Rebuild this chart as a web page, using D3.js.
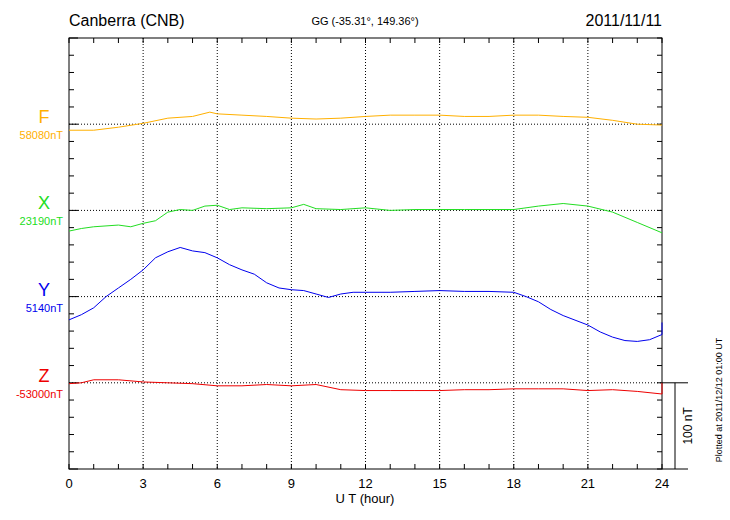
<!DOCTYPE html>
<html><head><meta charset="utf-8">
<script src="https://cdn.jsdelivr.net/npm/d3@7"></script>
<style>body{margin:0;background:#fff}svg{font-family:"Liberation Sans",Arial,sans-serif}</style>
</head><body><div id="canvas"></div>
<script>
// hourly values, nT relative to each component's baseline
const fHours = [0,1,2,3,4,5,5.7,6,7,8,9,10,11,12,13,14,15,16,17,18,19,20,21,22,23,24];
const fVals = [-7,-7,-3.5,1,7,9,14,12,10.5,9,7,6,7,9,10.5,10.5,10.5,9,9,10.5,10.5,9,8,4.5,0,-1];
const xHours = [0,0.5,1,2,2.5,3,3.5,4,4.5,5,5.5,6,6.5,7,8,9,9.5,10,11,12,13,14,15,16,17,18,19,20,21,22,23,24];
const xVals = [-24,-21,-19,-17,-19,-15,-12,-2,1,0,5,6,1,3,2,3,7,2,1,3,0,1,1,1,1,1,5,8,5,-2,-14,-26];
const yHours = [0,0.5,1,1.5,2,2.5,3,3.5,4,4.5,5,5.5,6,6.5,7,7.5,8,8.5,9,9.5,10,10.5,11,11.5,12,13,14,15,16,17,18,18.5,19,19.5,20,21,21.5,22,22.5,23,23.5,24,24];
const yVals = [-27,-21,-13,0,10,20,31,45,52,57,53,51,45,37,31,26,16,10,8,7,3,-1,3,5,5,5,6,7,6,6,5,0,-6,-15,-22,-33,-41,-47,-51,-52,-50,-44,-30];
const zHours = [0,0.5,1,2,3,4,5,6,7,8,9,10,11,12,13,14,15,16,17,18,19,20,21,22,23,24,24];
const zVals = [-1,0,3.5,3.5,1,0,-1,-3.5,-3.5,-2,-3.5,-2,-8,-9,-9,-9,-9,-8,-8,-7,-7,-7,-9,-8,-10,-13,0];
const comps = [
  {name:"F", base:"58080nT", color:"#ffb000", off:300, h:fHours, v:fVals},
  {name:"X", base:"23190nT", color:"#22dd22", off:200, h:xHours, v:xVals},
  {name:"Y", base:"5140nT", color:"#0000ee", off:100, h:yHours, v:yVals},
  {name:"Z", base:"-53000nT", color:"#ee0000", off:0, h:zHours, v:zVals}
];
const xTicks = [0,3,6,9,12,15,18,21,24];

const svg = d3.select("#canvas").append("svg").attr("width",730).attr("height",520);
const x = d3.scaleLinear().domain([0,24]).range([69,662]);
const y = d3.scaleLinear().domain([-100,400]).range([469,38]);

// frame
svg.append("rect").attr("x",69).attr("y",38).attr("width",593).attr("height",431)
  .attr("fill","none").attr("stroke","#000");

// grid
svg.selectAll(".vg").data(xTicks.slice(1,-1)).enter().append("line")
  .attr("x1",d=>x(d)).attr("x2",d=>x(d)).attr("y1",38).attr("y2",469)
  .attr("stroke","#000").attr("stroke-dasharray","1,2");
svg.selectAll(".hg").data(comps).enter().append("line")
  .attr("x1",69).attr("x2",662).attr("y1",d=>y(d.off)).attr("y2",d=>y(d.off))
  .attr("stroke","#000").attr("stroke-dasharray","1,2");

// minor ticks
const yt = d3.range(-100,401,20);
svg.selectAll(".lt").data(yt).enter().append("line")
  .attr("x1",69).attr("x2",d=>d%100===0?78:74).attr("y1",d=>y(d)).attr("y2",d=>y(d)).attr("stroke","#000");
svg.selectAll(".rt").data(yt).enter().append("line")
  .attr("x1",662).attr("x2",657).attr("y1",d=>y(d)).attr("y2",d=>y(d)).attr("stroke","#000");
svg.selectAll(".bt").data(d3.range(0,25)).enter().append("line")
  .attr("x1",d=>x(d)).attr("x2",d=>x(d)).attr("y1",469).attr("y2",464).attr("stroke","#000");
svg.selectAll(".tt").data(d3.range(0,25)).enter().append("line")
  .attr("x1",d=>x(d)).attr("x2",d=>x(d)).attr("y1",38).attr("y2",43).attr("stroke","#000");

// traces
comps.forEach(c=>{
  const pts = c.h.map((h,i)=>[h,c.v[i]+c.off]);
  svg.append("path").datum(pts).attr("fill","none").attr("stroke",c.color).attr("stroke-width",1)
    .attr("d",d3.line().x(d=>x(d[0])).y(d=>y(d[1])).curve(d3.curveLinear));
  svg.append("text").attr("x",44).attr("y",y(c.off)-1).attr("text-anchor","middle")
    .attr("font-size",18).attr("fill",c.color).text(c.name);
  svg.append("text").attr("x",63).attr("y",y(c.off)+15).attr("text-anchor","end")
    .attr("font-size",11).attr("fill",c.color).text(c.base);
});

// x labels
svg.selectAll(".xl").data(xTicks).enter().append("text")
  .attr("x",d=>x(d)).attr("y",488).attr("text-anchor","middle").attr("font-size",13).text(d=>d);
svg.append("text").attr("x",365).attr("y",503).attr("text-anchor","middle").attr("font-size",13).text("U T (hour)");

// header
svg.append("text").attr("x",69).attr("y",26).attr("font-size",16).text("Canberra (CNB)");
svg.append("text").attr("x",365).attr("y",25).attr("text-anchor","middle").attr("font-size",11).text("GG (-35.31°, 149.36°)");
svg.append("text").attr("x",662).attr("y",26).attr("text-anchor","end").attr("font-size",16).text("2011/11/11");

// scale bar
svg.append("line").attr("x1",662).attr("x2",688).attr("y1",y(0)).attr("y2",y(0)).attr("stroke","#000");
svg.append("line").attr("x1",662).attr("x2",688).attr("y1",469).attr("y2",469).attr("stroke","#000");
svg.append("line").attr("x1",675).attr("x2",675).attr("y1",y(0)).attr("y2",y(-100)).attr("stroke","#000");
svg.append("text").attr("transform",`translate(692,${(y(0)+y(-100))/2}) rotate(-90)`)
  .attr("text-anchor","middle").attr("font-size",12).text("100 nT");
svg.append("text").attr("transform","translate(722,400) rotate(-90)")
  .attr("text-anchor","middle").attr("font-size",9).text("Plotted at 2011/12/12 01:00 UT");
</script></body></html>
